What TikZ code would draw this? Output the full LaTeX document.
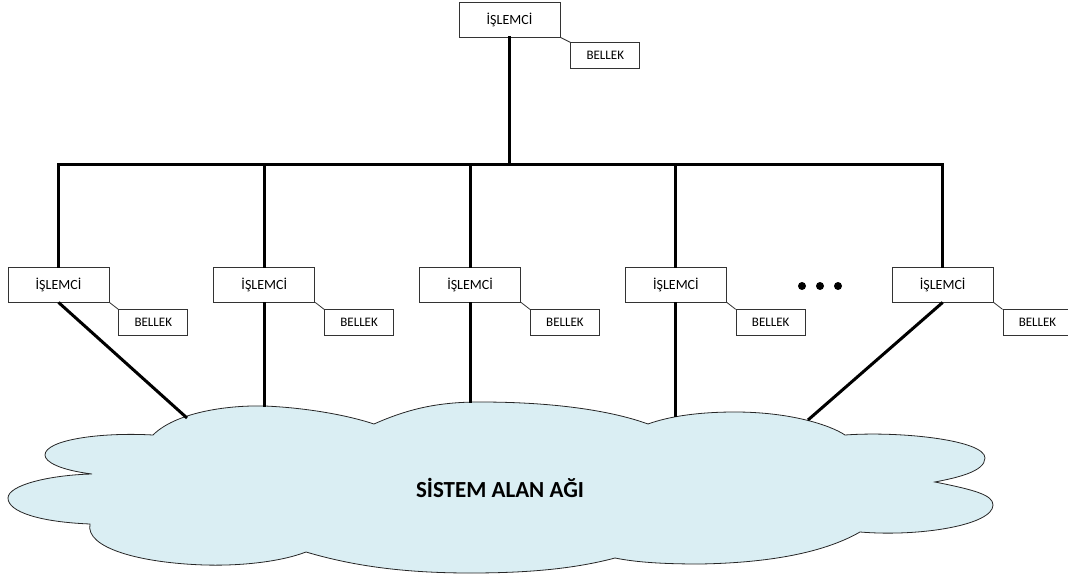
\documentclass[tikz,border=0pt]{standalone}
\usepackage{fontspec}
\setmainfont{Carlito}
\usepackage{tikz}
\usetikzlibrary{positioning}
\definecolor{sanblue}{RGB}{218,238,243}

\begin{document}
\begin{tikzpicture}[
  x=1pt, y=-1pt,
  cpu/.style={rectangle, draw=black!80, line width=0.8pt, fill=white,
              minimum width=101pt, minimum height=35pt, inner sep=0pt,
              font=\fontsize{14}{16}\selectfont},
  mem/.style={rectangle, draw=black!80, line width=0.8pt, fill=white,
              minimum width=69pt, minimum height=26pt, inner sep=0pt,
              font=\fontsize{13}{15}\selectfont},
  bus/.style={line width=3pt, line cap=rect},
  tie/.style={line width=0.8pt, draw=black!80},
  cloudbox/.style={draw=black!85, line width=0.8pt, fill=sanblue},
]
  \useasboundingbox (0,0) rectangle (1068,575);

  % system area network cloud
  \draw[cloudbox] (153,435)
    .. controls (175,413) and (225,405) .. (265,406)
    .. controls (310,408) and (350,416) .. (374,424)
    .. controls (410,408) and (440,402) .. (480,402)
    .. controls (560,402) and (615,412) .. (648,424)
    .. controls (670,416) and (700,412) .. (735,412)
    .. controls (790,412) and (830,425) .. (845,435)
    .. controls (900,431) and (985,440) .. (985,458)
    .. controls (985,472) and (955,478) .. (935,482)
    .. controls (975,490) and (993,495) .. (993,505)
    .. controls (993,525) and (920,537) .. (860,532)
    .. controls (820,555) and (760,563) .. (700,564)
    .. controls (660,564) and (635,562) .. (615,558)
    .. controls (570,570) and (520,573) .. (470,573)
    .. controls (400,573) and (350,565) .. (306,552)
    .. controls (280,562) and (240,566) .. (205,565)
    .. controls (140,563) and (85,548) .. (90,524)
    .. controls (40,522) and (8,512) .. (8,498)
    .. controls (8,485) and (50,475) .. (92,474)
    .. controls (60,470) and (45,462) .. (45,455)
    .. controls (45,440) and (100,432) .. (153,435) -- cycle;
  \node[font=\fontsize{23}{27}\selectfont\bfseries] (san) at (500,488) {SİSTEM ALAN AĞI};

  % processors
  \node[cpu] (cpu0) at (509.5,19.5) {İŞLEMCİ};
  \node[cpu] (cpu1) at (58.5,284.5) {İŞLEMCİ};
  \node[cpu, right=104pt of cpu1] (cpu2) {İŞLEMCİ};
  \node[cpu, right=104pt of cpu2] (cpu3) {İŞLEMCİ};
  \node[cpu, right=104pt of cpu3] (cpu4) {İŞLEMCİ};
  \node[cpu, right=165pt of cpu4] (cpu5) {İŞLEMCİ};

  % memories
  \node[mem, below right=5pt and 10pt of cpu0.south east] (mem0) {BELLEK};
  \foreach \i in {1,...,5}
    \node[mem, below right=7pt and 9pt of cpu\i.south east] (mem\i) {BELLEK};
  \foreach \i in {0,...,5}
    \draw[tie] (cpu\i.south east) -- (mem\i.north west);

  % bus
  \coordinate (bus) at (0,164);
  \draw[bus] (cpu1.north |- bus) -- (cpu5.north |- bus);
  \draw[bus] (cpu0.south) -- (cpu0.south |- bus);
  \foreach \i in {1,...,5}
    \draw[bus] (cpu\i.north) -- (cpu\i.north |- bus);

  % links to the network
  \coordinate (san1) at (187,418);
  \coordinate (san2) at (cpu2.south |- 0,407);
  \coordinate (san3) at (cpu3.south |- 0,403);
  \coordinate (san4) at (cpu4.south |- 0,417);
  \coordinate (san5) at (808,420);
  \foreach \i in {1,...,5}
    \draw[bus, line cap=butt] (cpu\i.south) -- (san\i);

  \foreach \x in {802,820,838}
    \fill (\x,286) circle (4pt);
\end{tikzpicture}
\end{document}
